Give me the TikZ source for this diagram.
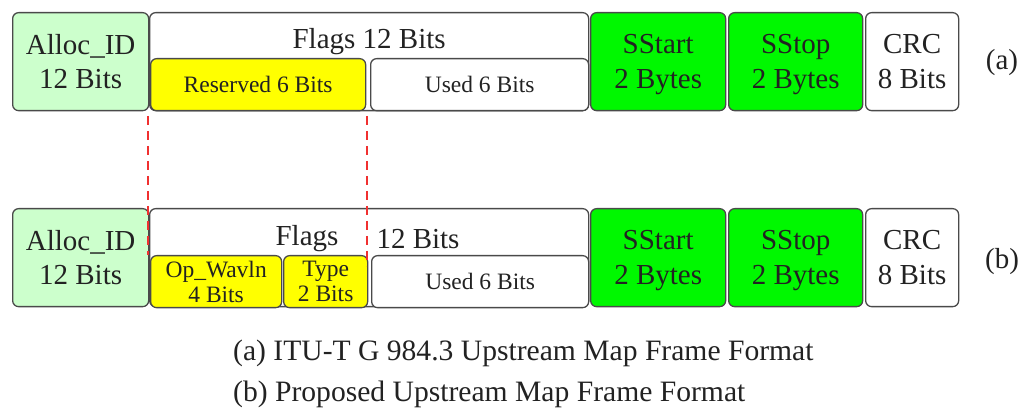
\documentclass[tikz,border=0pt]{standalone}
\usepackage{fontspec}
\setmainfont{Liberation Serif}
\usetikzlibrary{calc}
\definecolor{edge}{HTML}{4A4A4A}
\definecolor{txt}{HTML}{222222}
\definecolor{lgreen}{HTML}{CCFFCC}
\definecolor{bgreen}{HTML}{00F800}
\definecolor{byellow}{HTML}{FFFF00}
\definecolor{dred}{HTML}{F03030}
\tikzset{
  fbox/.style={draw=edge, line width=1.3pt, rounded corners=6pt, anchor=north west,
    inner sep=0pt, align=center, text=txt, font=\fontsize{29}{34.5}\selectfont},
  sbox/.style={fbox, font=\fontsize{23.5}{25}\selectfont},
  lbl/.style={text=txt, inner sep=0pt, font=\fontsize{29}{34.5}\selectfont},
  captxt/.style={text=txt, inner sep=0pt, anchor=west, font=\fontsize{29.6}{36}\selectfont},
  guide/.style={draw=dred, line width=1.3pt, dash pattern=on 9pt off 6pt}
}
\begin{document}
\begin{tikzpicture}[x=1pt,y=-1pt]
\useasboundingbox (0,0) rectangle (1033,419);
% ---- row (a)
\node[fbox, fill=lgreen, minimum width=136pt, minimum height=98pt, text depth=0pt] (alloca) at (12,12) {Alloc\_ID\\12 Bits};
\node[fbox, fill=white, minimum width=439pt, minimum height=98pt] (flagsa) at (149,12) {};
\node[lbl] (flagsla) at ($(flagsa.north)+(0,30)$) {Flags 12 Bits};
\node[sbox, fill=byellow, minimum width=215pt, minimum height=52pt] (resa) at (150,58) {Reserved 6 Bits};
\node[sbox, fill=white, minimum width=218pt, minimum height=52pt] (useda) at (370,58) {Used 6 Bits};
\node[fbox, fill=bgreen, minimum width=135pt, minimum height=98pt, text depth=0pt] (sstarta) at (590,12) {SStart\\2 Bytes};
\node[fbox, fill=bgreen, minimum width=134pt, minimum height=98pt, text depth=0pt] (sstopa) at (728,12) {SStop\\2 Bytes};
\node[fbox, fill=white, minimum width=93pt, minimum height=98pt, text depth=0pt] (crca) at (865,12) {CRC\\8 Bits};
\node[lbl] (taga) at (1002,63) {(a)};
% ---- row (b)
\node[fbox, fill=lgreen, minimum width=136pt, minimum height=98pt, text depth=0pt] (allocb) at (12,208) {Alloc\_ID\\12 Bits};
\node[fbox, fill=white, minimum width=439pt, minimum height=98pt] (flagsb) at (149,208) {};
\node[lbl] (flagslb) at (307,239) {Flags};
\node[lbl] (bitslb) at (418,239) {12 Bits};
\node[sbox, fill=byellow, minimum width=131pt, minimum height=52pt] (opw) at (150,255) {Op\_Wavln\\4 Bits};
\node[sbox, fill=byellow, minimum width=84pt, minimum height=52pt] (typeb) at (283,255) {Type\\2 Bits};
\node[sbox, fill=white, minimum width=217pt, minimum height=52pt] (usedb) at (371,255) {Used 6 Bits};
\node[fbox, fill=bgreen, minimum width=135pt, minimum height=98pt, text depth=0pt] (sstartb) at (590,208) {SStart\\2 Bytes};
\node[fbox, fill=bgreen, minimum width=134pt, minimum height=98pt, text depth=0pt] (sstopb) at (728,208) {SStop\\2 Bytes};
\node[fbox, fill=white, minimum width=93pt, minimum height=98pt, text depth=0pt] (crcb) at (865,208) {CRC\\8 Bits};
\node[lbl] (tagb) at (1002,262) {(b)};
% ---- dashed guides
\coordinate (g1s) at (148,116);
\coordinate (g1e) at (148,255);
\coordinate (g2s) at (367,116);
\coordinate (g2e) at (367,266);
\draw[guide] (g1s) -- (g1e);
\draw[guide] (g2s) -- (g2e);
% ---- captions
\node[captxt] (capa) at (233,353) {(a) ITU-T G 984.3 Upstream Map Frame Format};
\node[captxt] (capb) at (233,394) {(b) Proposed Upstream Map Frame Format};
\end{tikzpicture}
\end{document}
